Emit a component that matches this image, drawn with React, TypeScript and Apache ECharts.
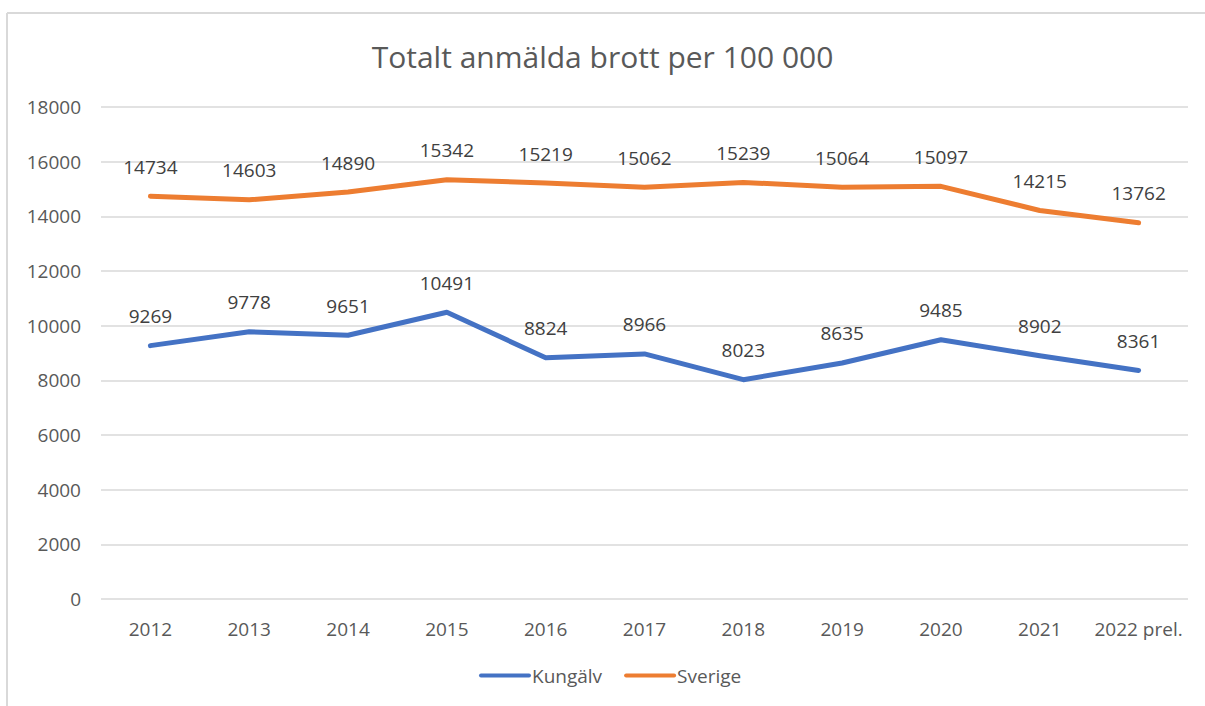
import React, { useEffect, useRef } from "react";
import * as echarts from "echarts";

const categories = ["2012", "2013", "2014", "2015", "2016", "2017", "2018", "2019", "2020", "2021", "2022 prel."];
const kungalv = [9269, 9778, 9651, 10491, 8824, 8966, 8023, 8635, 9485, 8902, 8361];
const sverige = [14734, 14603, 14890, 15342, 15219, 15062, 15239, 15064, 15097, 14215, 13762];
const titleText = "Totalt anmälda brott per 100 000";

const FONT = "'Open Sans', 'Liberation Sans', sans-serif";

export default function App() {
  const ref = useRef<HTMLDivElement>(null);
  useEffect(() => {
    if (!ref.current) return;
    const chart = echarts.init(ref.current, undefined, { renderer: "svg" });
    const label = {
      show: true,
      position: "top",
      distance: 19,
      color: "#404040",
      fontSize: 19,
      fontFamily: FONT,
    };
    chart.setOption({
      animation: false,
      backgroundColor: "#ffffff",
      textStyle: { fontFamily: FONT },
      title: {
        text: titleText,
        left: "center",
        top: 36,
        textStyle: { color: "#595959", fontSize: 30, fontWeight: "normal", fontFamily: FONT },
      },
      graphic: [
        { type: "line", shape: { x1: 7, y1: 13, x2: 1205, y2: 13 }, style: { stroke: "#d9d9d9", lineWidth: 2 } },
        { type: "line", shape: { x1: 7, y1: 13, x2: 7, y2: 706 }, style: { stroke: "#d9d9d9", lineWidth: 2 } },
      ],
      legend: {
        bottom: 16,
        left: 474,
        itemWidth: 52,
        itemHeight: 14,
        itemGap: 22,
        icon: "path://M2,5 L50,5 A2,2 0 0 1 50,9 L2,9 A2,2 0 0 1 2,5 Z",
        textStyle: { color: "#595959", fontSize: 19, fontFamily: FONT, padding: [0, 0, 0, -4] },
        data: ["Kungälv", "Sverige"],
      },
      grid: { left: 101, right: 17, top: 107, bottom: 107 },
      xAxis: {
        type: "category",
        data: categories,
        boundaryGap: true,
        axisLine: { show: false },
        axisTick: { show: false },
        axisLabel: { color: "#595959", fontSize: 19, fontFamily: FONT, margin: 20, interval: 0 },
      },
      yAxis: {
        type: "value",
        min: 0,
        max: 18000,
        interval: 2000,
        axisLine: { show: false },
        axisTick: { show: false },
        axisLabel: {
          color: "#595959",
          fontSize: 19,
          fontFamily: FONT,
          margin: 20,
          formatter: (v: number) => String(v),
        },
        splitLine: { lineStyle: { color: "#d9d9d9", width: 1.5 } },
      },
      series: [
        {
          name: "Kungälv",
          type: "line",
          data: kungalv,
          symbol: "circle",
          symbolSize: 2,
          showSymbol: true,
          color: "#4472C4",
          itemStyle: { color: "#4472C4" },
          lineStyle: { width: 5, color: "#4472C4", cap: "round", join: "round" },
          label,
        },
        {
          name: "Sverige",
          type: "line",
          data: sverige,
          symbol: "circle",
          symbolSize: 2,
          showSymbol: true,
          color: "#ED7D31",
          itemStyle: { color: "#ED7D31" },
          lineStyle: { width: 5, color: "#ED7D31", cap: "round", join: "round" },
          label,
        },
      ],
    });
    return () => chart.dispose();
  }, []);
  return (
    <div
      ref={ref}
      style={{ position: "absolute", left: 0, top: 0, width: 1205, height: 706 }}
    />
  );
}
